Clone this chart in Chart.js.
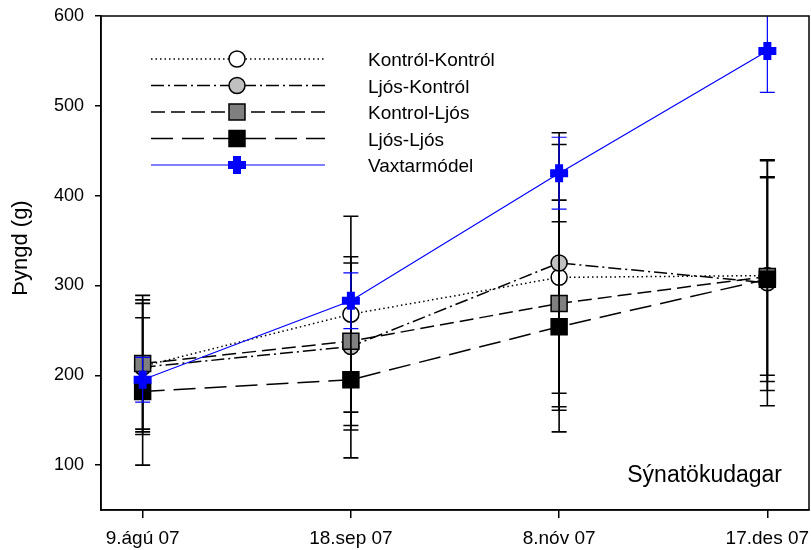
<!DOCTYPE html>
<html>
<head>
<meta charset="utf-8">
<script src="https://cdn.jsdelivr.net/npm/chart.js@4/dist/chart.umd.min.js"></script>
<style>
  html, body { margin: 0; padding: 0; background: #fff; overflow: hidden; }
  .chart-wrap { width: 811px; height: 550px; position: relative; }
</style>
</head>
<body>
<div class="chart-wrap"><canvas id="weightChart"></canvas></div>
<script>
const dateLabels = ['9.ágú 07', '18.sep 07', '8.nóv 07', '17.des 07'];
const yTicks = [100, 200, 300, 400, 500, 600];

// means and +/- error per sampling day
const kontrolKontrol = [210, 268, 309, 311];
const kontrolKontrolErr = [70, 109, 148, 128];
const ljosKontrol = [209, 232, 325, 303];
const ljosKontrolErr = [75, 93, 145, 137];
const kontrolLjos = [213, 238, 280, 310];
const kontrolLjosErr = [76, 94, 115, 110];
const ljosLjos = [182, 195, 254, 307];
const ljosLjosErr = [82, 87, 117, 114];
const vaxtarmodel = [195, 283, 425, 561];
const vaxtarmodelErr = [25, 31, 40, 46];

const FONT = 'Arial, "Liberation Sans", sans-serif';

function toPoints(values) {
  return values.map((v, i) => ({ x: i, y: v }));
}

function series(label, values, errors, style) {
  return Object.assign({
    label: label,
    data: toPoints(values),
    errors: errors,
    fill: false,
    tension: 0,
    pointRotation: 0,
    pointBorderColor: '#000',
    pointBorderWidth: 1.5,
    pointHoverRadius: 0
  }, style);
}

const datasets = [
  series('Kontról-Kontról', kontrolKontrol, kontrolKontrolErr, {
    borderColor: '#000', borderWidth: 1.5, borderDash: [1.5, 3],
    pointStyle: 'circle', pointRadius: 8, pointBackgroundColor: '#fff',
    errColor: '#000', errWidth: 1.6, order: 4
  }),
  series('Ljós-Kontról', ljosKontrol, ljosKontrolErr, {
    borderColor: '#000', borderWidth: 1.5, borderDash: [13, 4, 2, 4],
    pointStyle: 'circle', pointRadius: 8, pointBackgroundColor: '#c0c0c0',
    errColor: '#000', errWidth: 1.6, order: 3
  }),
  series('Kontrol-Ljós', kontrolLjos, kontrolLjosErr, {
    borderColor: '#000', borderWidth: 1.5, borderDash: [14, 6],
    pointStyle: 'rect', pointRadius: 11.3, pointBackgroundColor: '#808080',
    errColor: '#000', errWidth: 1.6, order: 2
  }),
  series('Ljós-Ljós', ljosLjos, ljosLjosErr, {
    borderColor: '#000', borderWidth: 1.5, borderDash: [22, 9],
    pointStyle: 'rect', pointRadius: 11.3, pointBackgroundColor: '#000',
    errColor: '#000', errWidth: 1.6, order: 1
  }),
  series('Vaxtarmódel', vaxtarmodel, vaxtarmodelErr, {
    borderColor: '#0000ff', borderWidth: 1.2, borderDash: [],
    pointStyle: 'cross', pointRadius: 9, pointBackgroundColor: '#0000ff',
    pointBorderColor: '#0000ff', pointBorderWidth: 8,
    errColor: '#0000ff', errWidth: 1.2, order: 0
  })
];

// vertical error bars with caps, drawn just before each dataset's own line and markers
const errorBars = {
  id: 'errorBars',
  beforeDatasetDraw(chart, args) {
    const ds = chart.data.datasets[args.index];
    if (!ds.errors) return;
    const { ctx, chartArea, scales } = chart;
    ctx.save();
    ctx.beginPath();
    ctx.rect(chartArea.left, chartArea.top, chartArea.right - chartArea.left, chartArea.bottom - chartArea.top);
    ctx.clip();
    ctx.strokeStyle = ds.errColor;
    ctx.lineWidth = ds.errWidth;
    ds.data.forEach((p, i) => {
      const x = scales.x.getPixelForValue(p.x);
      const hi = scales.y.getPixelForValue(p.y + ds.errors[i]);
      const lo = scales.y.getPixelForValue(p.y - ds.errors[i]);
      ctx.beginPath();
      ctx.moveTo(x, hi); ctx.lineTo(x, lo);
      ctx.moveTo(x - 7.5, hi); ctx.lineTo(x + 7.5, hi);
      ctx.moveTo(x - 7.5, lo); ctx.lineTo(x + 7.5, lo);
      ctx.stroke();
    });
    ctx.restore();
  }
};

// closed frame, legend box, axis title and in-plot label
const decorations = {
  id: 'decorations',
  afterDraw(chart) {
    const { ctx, chartArea } = chart;
    ctx.save();
    ctx.strokeStyle = '#000';
    ctx.lineWidth = 1.5;
    ctx.strokeRect(chartArea.left, chartArea.top, chartArea.right - chartArea.left, chartArea.bottom - chartArea.top);

    // legend: line sample with marker in the middle, then the label
    chart.data.datasets.forEach((ds, i) => {
      const y = 59 + i * 26.5;
      ctx.save();
      ctx.strokeStyle = ds.borderColor;
      ctx.lineWidth = ds.borderWidth;
      ctx.setLineDash(ds.borderDash);
      ctx.beginPath();
      ctx.moveTo(151, y);
      ctx.lineTo(325, y);
      ctx.stroke();
      ctx.setLineDash([]);
      ctx.fillStyle = ds.pointBackgroundColor;
      ctx.strokeStyle = ds.pointBorderColor;
      ctx.lineWidth = ds.pointBorderWidth;
      Chart.helpers.drawPoint(ctx, {
        pointStyle: ds.pointStyle, radius: ds.pointRadius, rotation: 0, borderWidth: ds.pointBorderWidth
      }, 237, y);
      ctx.restore();

      ctx.fillStyle = '#000';
      ctx.font = '19px ' + FONT;
      ctx.textAlign = 'left';
      ctx.textBaseline = 'alphabetic';
      ctx.fillText(ds.label, 368, y + 7);
    });

    ctx.font = '23px ' + FONT;
    ctx.textAlign = 'right';
    ctx.fillText('Sýnatökudagar', 782, 482);

    ctx.translate(21, 248);
    ctx.rotate(-Math.PI / 2);
    ctx.font = '22px ' + FONT;
    ctx.textAlign = 'center';
    ctx.textBaseline = 'middle';
    ctx.fillText('Þyngd (g)', 0, 0);
    ctx.restore();
  }
};

// keep the frame fixed: no extra room reserved for overhanging tick labels
function noLabelPadding(scale) {
  scale.paddingLeft = 0;
  scale.paddingRight = 0;
  scale.paddingTop = 0;
  scale.paddingBottom = 0;
}

new Chart(document.getElementById('weightChart'), {
  type: 'line',
  data: { datasets: datasets },
  options: {
    responsive: true,
    maintainAspectRatio: false,
    animation: false,
    events: [],
    layout: { autoPadding: false, padding: { top: 16, right: 2, left: 0, bottom: 0 } },
    plugins: {
      legend: { display: false },
      tooltip: { enabled: false }
    },
    scales: {
      x: {
        type: 'linear',
        min: -0.2,
        max: 3.2,
        afterBuildTicks: scale => { scale.ticks = dateLabels.map((_, i) => ({ value: i })); },
        afterFit: scale => { scale.height = 40; noLabelPadding(scale); },
        border: { display: true, color: '#000', width: 1.5 },
        grid: { drawOnChartArea: false, drawTicks: true, tickLength: 8, color: '#000', lineWidth: 1.5 },
        ticks: {
          color: '#000',
          font: { family: FONT, size: 19 },
          padding: 9,
          maxRotation: 0,
          callback: v => dateLabels[v]
        }
      },
      y: {
        type: 'linear',
        min: 50,
        max: 600,
        afterBuildTicks: scale => { scale.ticks = yTicks.map(v => ({ value: v })); },
        afterFit: scale => { scale.width = 101; noLabelPadding(scale); },
        border: { display: true, color: '#000', width: 1.5 },
        grid: { drawOnChartArea: false, drawTicks: true, tickLength: 6, color: '#000', lineWidth: 1.5 },
        ticks: {
          color: '#000',
          font: { family: FONT, size: 18 },
          padding: 11
        }
      }
    }
  },
  plugins: [errorBars, decorations]
});
</script>
</body>
</html>
